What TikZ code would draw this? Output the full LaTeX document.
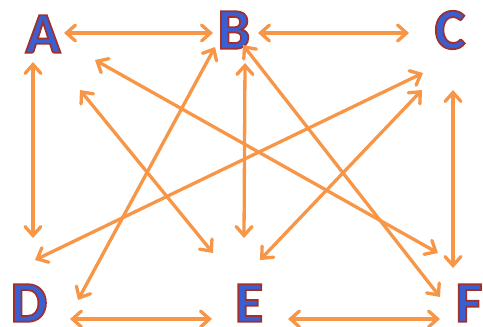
\documentclass[tikz,border=0pt]{standalone}
\usepackage{fontspec}
\newfontface\ltfont[FakeBold=3]{Carlito Bold}
\usetikzlibrary{arrows.meta}
\definecolor{arr}{HTML}{F79646}
\definecolor{lblue}{HTML}{3A5FD0}
\tikzset{
  lt/.style={inner sep=0pt, text=lblue, font=\fontsize{58}{58}\ltfont},
  link/.style={draw=arr, line width=3.3pt, line cap=round,
    {Straight Barb[length=9pt,width=16pt,line cap=round]}-{Straight Barb[length=9pt,width=16pt,line cap=round]}}
}
\newcommand\outl[1]{\special{pdf:code 0.627 0.188 0.18 RG}#1}
\begin{document}
\begin{tikzpicture}[x=1pt,y=-1pt]
\useasboundingbox (0,0) rectangle (483,327);
\node[lt] (A) at (43,34) {\outl{A}};
\node[lt] (B) at (234,30) {\outl{B}};
\node[lt] (C) at (450,30) {\outl{C}};
\node[lt] (D) at (29,303) {\outl{D}};
\node[lt] (E) at (249,303) {\outl{E}};
\node[lt] (F) at (469,303) {\outl{F}};
% endpoints
\coordinate (ab1) at (64,33);  \coordinate (ab2) at (213,33);
\coordinate (bc1) at (258,33); \coordinate (bc2) at (409,33);
\coordinate (ad1) at (33,62);  \coordinate (ad2) at (33,238);
\coordinate (be1) at (245,63); \coordinate (be2) at (244,238);
\coordinate (cf1) at (453,90); \coordinate (cf2) at (453,268);
\coordinate (de1) at (70,319); \coordinate (de2) at (212,319);
\coordinate (ef1) at (288,319);\coordinate (ef2) at (440,319);
\coordinate (af1) at (95,60);  \coordinate (af2) at (438,253);
\coordinate (ae1) at (80,90);  \coordinate (ae2) at (213,253);
\coordinate (bd1) at (215,47); \coordinate (bd2) at (78,300);
\coordinate (bf1) at (243,45); \coordinate (bf2) at (440,297);
\coordinate (cd1) at (423,73); \coordinate (cd2) at (35,260);
\coordinate (ce1) at (422,90); \coordinate (ce2) at (260,260);
\foreach \p in {ab,bc,ad,be,cf,de,ef,af,ae,bd,bf,cd,ce}
  \draw[link] (\p1) -- (\p2);
\end{tikzpicture}
\end{document}
